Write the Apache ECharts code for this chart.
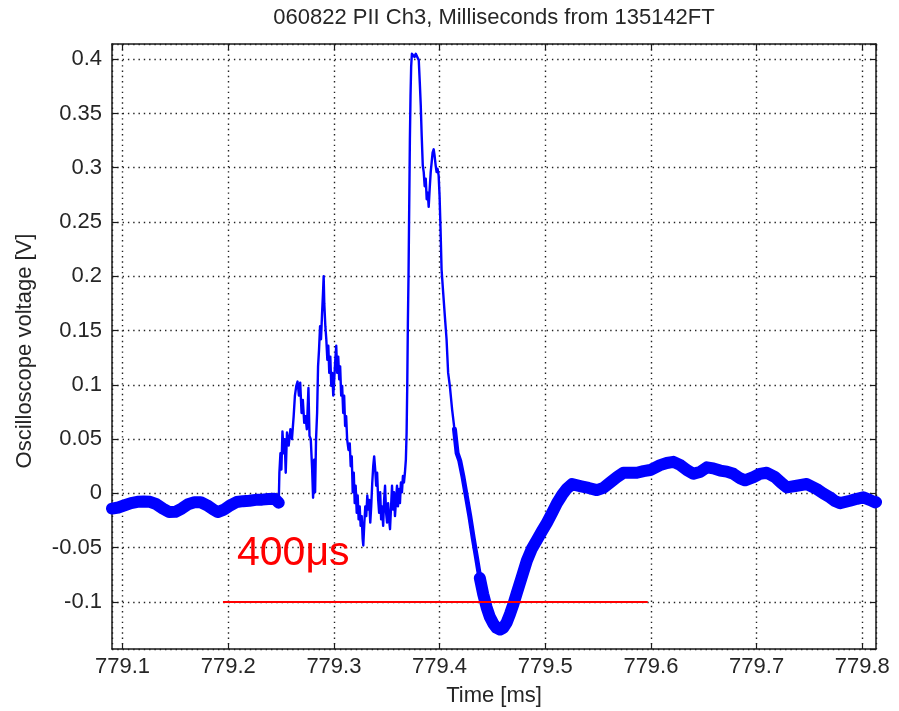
<!DOCTYPE html>
<html>
<head>
<meta charset="utf-8">
<script src="https://cdn.jsdelivr.net/npm/echarts@6/dist/echarts.min.js"></script>
<style>
html,body{margin:0;padding:0;background:#fff;}
#chart{width:899px;height:711px;}
</style>
</head>
<body>
<div id="chart"></div>
<script>
// ---- Data ----
// Left baseline (noisy band before the event)
const leftBandT = [779.090, 779.096, 779.102, 779.108, 779.114, 779.120, 779.126, 779.132, 779.138, 779.144,
  779.150, 779.156, 779.162, 779.168, 779.174, 779.180, 779.186, 779.190, 779.196, 779.202,
  779.208, 779.214, 779.220, 779.226, 779.232, 779.238, 779.244, 779.2478];
const leftBandV = [-0.014, -0.013, -0.011, -0.009, -0.0078, -0.0075, -0.0078, -0.010, -0.014, -0.0172,
  -0.0170, -0.014, -0.010, -0.0082, -0.0082, -0.011, -0.015, -0.0172, -0.015, -0.011,
  -0.008, -0.0072, -0.0068, -0.006, -0.0058, -0.0052, -0.005, -0.0086];

// Burst, main peak and first part of the fall (thin trace)
const burstT = [779.2478, 779.2484, 779.2494, 779.2503, 779.2513, 779.2525, 779.2534, 779.2544, 779.2556, 779.2572,
  779.2588, 779.2603, 779.2619, 779.2631, 779.2644, 779.2656, 779.2669, 779.2681, 779.2694, 779.2706,
  779.2719, 779.2731, 779.2744, 779.2759, 779.2769, 779.2781, 779.2794, 779.2803, 779.2813, 779.2822,
  779.2831, 779.2841, 779.2850, 779.2859, 779.2869, 779.2878, 779.2888, 779.2897, 779.2903, 779.2909,
  779.2919, 779.2928, 779.2938, 779.2947, 779.2956, 779.2966, 779.2975, 779.2984, 779.2994, 779.3003,
  779.3013, 779.3022, 779.3031, 779.3041, 779.3050, 779.3059, 779.3069, 779.3078, 779.3088, 779.3097,
  779.3106, 779.3116, 779.3125, 779.3138, 779.3150, 779.3159, 779.3169, 779.3178, 779.3188, 779.3197,
  779.3206, 779.3216, 779.3225, 779.3234, 779.3244, 779.3253, 779.3263, 779.3272, 779.3278, 779.3288,
  779.3297, 779.3306, 779.3316, 779.3325, 779.3334, 779.3344, 779.3353, 779.3363, 779.3372, 779.3381,
  779.3391, 779.3400, 779.3409, 779.3419, 779.3428, 779.3438, 779.3447, 779.3456, 779.3466, 779.3475,
  779.3484, 779.3494, 779.3503, 779.3513, 779.3522, 779.3531, 779.3541, 779.3550, 779.3559, 779.3569,
  779.3578, 779.3588, 779.3597, 779.3606, 779.3616, 779.3625, 779.3634, 779.3644, 779.3653, 779.3663,
  779.3672, 779.3681, 779.3688, 779.3694, 779.3700, 779.3706, 779.3719, 779.3725, 779.3731, 779.3738,
  779.3750, 779.3763, 779.3775, 779.3791, 779.3803, 779.3813, 779.3822, 779.3831, 779.3841, 779.3850,
  779.3859, 779.3869, 779.3878, 779.3888, 779.3897, 779.3906, 779.3916, 779.3925, 779.3934, 779.3944,
  779.3953, 779.3963, 779.3972, 779.3981, 779.3991, 779.4000, 779.4009, 779.4019, 779.4034, 779.4050,
  779.4066, 779.4081, 779.4097, 779.4119, 779.4141, 779.4166];
const burstV = [-0.0086, 0.019, 0.037, 0.022, 0.057, 0.037, 0.050, 0.019, 0.056, 0.044,
  0.059, 0.050, 0.071, 0.090, 0.099, 0.103, 0.090, 0.102, 0.074, 0.086,
  0.065, 0.071, 0.059, 0.097, 0.053, 0.050, 0.022, -0.004, 0.031, 0.001,
  0.050, 0.074, 0.117, 0.132, 0.154, 0.142, 0.166, 0.185, 0.200, 0.175,
  0.154, 0.142, 0.123, 0.136, 0.111, 0.126, 0.099, 0.111, 0.090, 0.105,
  0.123, 0.136, 0.111, 0.126, 0.105, 0.117, 0.090, 0.099, 0.074, 0.090,
  0.062, 0.071, 0.050, 0.040, 0.046, 0.025, 0.034, 0.001, 0.019, -0.009,
  0.007, -0.018, -0.002, -0.024, -0.012, -0.030, -0.021, -0.042, -0.048, -0.027,
  -0.012, -0.021, -0.002, -0.015, -0.006, -0.027, -0.012, 0.010, 0.025, 0.034,
  0.022, 0.007, 0.019, -0.006, -0.018, 0.001, -0.024, -0.012, -0.030, -0.006,
  0.007, -0.018, -0.027, -0.009, -0.024, -0.033, -0.012, 0.007, -0.015, 0.001,
  -0.021, -0.006, 0.007, -0.012, 0.004, -0.009, 0.010, 0.001, 0.016, 0.010,
  0.019, 0.031, 0.056, 0.099, 0.157, 0.200, 0.326, 0.366, 0.393, 0.405,
  0.405, 0.402, 0.405, 0.405, 0.399, 0.378, 0.357, 0.329, 0.302, 0.296,
  0.283, 0.290, 0.271, 0.277, 0.264, 0.280, 0.296, 0.305, 0.314, 0.317,
  0.311, 0.302, 0.296, 0.299, 0.293, 0.274, 0.244, 0.206, 0.185, 0.163,
  0.142, 0.111, 0.099, 0.077, 0.059, 0.037];

// Lower part of the fall (medium trace)
const fallT = [779.4141, 779.4166, 779.4191, 779.4222, 779.4254, 779.4286, 779.4318, 779.4349, 779.4381, 779.4413, 779.4445];
const fallV = [0.059, 0.037, 0.030, 0.015, -0.003, -0.021, -0.041, -0.059, -0.078, -0.093, -0.105];

// Trough and right baseline (noisy band)
const rightBandT = [779.4381, 779.4413, 779.4445, 779.4476, 779.4508, 779.4540, 779.4572, 779.4603, 779.4635, 779.4667,
  779.4699, 779.4730, 779.4778, 779.4826, 779.4873, 779.4921, 779.4968, 779.5016, 779.5064, 779.5111,
  779.5159, 779.5206, 779.5254, 779.5340, 779.5410, 779.5488, 779.5550, 779.5614, 779.5680, 779.5740,
  779.5800, 779.5867, 779.5930, 779.5993, 779.6087, 779.6150, 779.6213, 779.6280, 779.6340, 779.6402,
  779.6470, 779.6529, 779.6590, 779.6655, 779.6718, 779.6781, 779.6840, 779.6891, 779.6970, 779.7030,
  779.7096, 779.7175, 779.7230, 779.7286, 779.7380, 779.7475, 779.7569, 779.7630, 779.7695, 779.7740,
  779.7790, 779.7884, 779.7950, 779.8010, 779.8070, 779.8121, 779.8130];
const rightBandV = [-0.078, -0.093, -0.105, -0.114, -0.120, -0.124, -0.1255, -0.124, -0.119, -0.111,
  -0.102, -0.092, -0.077, -0.062, -0.051, -0.043, -0.035, -0.027, -0.018, -0.009,
  -0.0015, 0.0045, 0.0085, 0.0065, 0.005, 0.003, 0.005, 0.010, 0.015, 0.019,
  0.019, 0.019, 0.0205, 0.0215, 0.026, 0.028, 0.029, 0.026, 0.0215, 0.018,
  0.020, 0.024, 0.023, 0.021, 0.020, 0.018, 0.014, 0.012, 0.015, 0.018,
  0.019, 0.015, 0.010, 0.0055, 0.007, 0.0086, 0.004, 0.000, -0.0037, -0.007,
  -0.009, -0.0068, -0.005, -0.0037, -0.006, -0.0083, -0.008];

// Red 400 µs scale bar
const scaleBarT = [779.195, 779.597];
const scaleBarV = [-0.1, -0.1];

// Axis ranges
const xMin = 779.09, xMax = 779.813;
const yMin = -0.1434, yMax = 0.414;

const titleText = '060822 PII Ch3, Milliseconds from 135142FT';
const xName = 'Time [ms]';
const yName = 'Oscilloscope voltage [V]';
const barLabel = '400μs';

// ---- Chart ----
const FONT = "'Liberation Sans', Arial, Helvetica, sans-serif";
const TXT = '#262626';
const BLUE = '#0000ff';
const zip = (a, b) => a.map((t, i) => [t, b[i]]);

const chart = echarts.init(document.getElementById('chart'), null, {renderer: 'canvas'});

const axisLineStyle = {show: true, onZero: false, lineStyle: {color: '#1a1a1a', width: 1.5}};
const tickStyle = {show: true, inside: true, length: 6, lineStyle: {color: '#1a1a1a', width: 1.2}};
const gridDots = {show: true, lineStyle: {color: '#222', width: 1.4, type: [1.4, 3.9]}};

const option = {
  animation: false,
  backgroundColor: '#fff',
  grid: {left: 112, right: 23, top: 44, bottom: 62, containLabel: false},
  xAxis: [{
    type: 'value', min: xMin, max: xMax, splitNumber: 7, position: 'bottom',
    axisLine: axisLineStyle, axisTick: tickStyle, splitLine: gridDots,
    axisLabel: {show: true, showMinLabel: false, showMaxLabel: false, color: TXT, fontSize: 22, fontFamily: FONT, margin: 7}
  }, {
    type: 'value', min: xMin, max: xMax, splitNumber: 7, position: 'top',
    axisLine: axisLineStyle, axisTick: tickStyle, splitLine: {show: false}, axisLabel: {show: false}
  }],
  yAxis: [{
    type: 'value', min: yMin, max: yMax, splitNumber: 10, position: 'left',
    axisLine: axisLineStyle, axisTick: tickStyle, splitLine: gridDots,
    axisLabel: {show: true, showMinLabel: false, showMaxLabel: false, color: TXT, fontSize: 22, fontFamily: FONT, margin: 10}
  }, {
    type: 'value', min: yMin, max: yMax, splitNumber: 10, position: 'right',
    axisLine: axisLineStyle, axisTick: tickStyle, splitLine: {show: false}, axisLabel: {show: false}
  }],
  series: [
    {type: 'line', name: 'leftBand', data: zip(leftBandT, leftBandV), showSymbol: false, symbol: 'none',
      lineStyle: {color: BLUE, width: 12, cap: 'round', join: 'round'}, z: 3},
    {type: 'line', name: 'burst', data: zip(burstT, burstV), showSymbol: false, symbol: 'none',
      lineStyle: {color: BLUE, width: 2.4, join: 'round'}, z: 3},
    {type: 'line', name: 'fall', data: zip(fallT, fallV), showSymbol: false, symbol: 'none',
      lineStyle: {color: BLUE, width: 5, cap: 'round', join: 'round'}, z: 3},
    {type: 'line', name: 'rightBand', data: zip(rightBandT, rightBandV), showSymbol: false, symbol: 'none',
      lineStyle: {color: BLUE, width: 12, cap: 'round', join: 'round'}, z: 3},
    {type: 'line', name: 'scaleBar', data: zip(scaleBarT, scaleBarV), showSymbol: false, symbol: 'none',
      lineStyle: {color: '#ff0000', width: 2}, z: 4}
  ],
  graphic: [
    {type: 'text', x: 494, y: 18, style: {text: titleText, fill: TXT, font: '22px ' + FONT, align: 'center', verticalAlign: 'middle'}},
    {type: 'text', x: 494, y: 696, style: {text: xName, fill: TXT, font: '22px ' + FONT, align: 'center', verticalAlign: 'middle'}},
    {type: 'text', x: 25, y: 351, rotation: Math.PI / 2, style: {text: yName, fill: TXT, font: '22px ' + FONT, align: 'center', verticalAlign: 'middle'}},
    {type: 'text', x: 237, y: 554, z: 10, style: {text: barLabel, fill: '#ff0000', font: '41px ' + FONT, align: 'left', verticalAlign: 'middle'}}
  ]
};
chart.setOption(option);
</script>
</body>
</html>
